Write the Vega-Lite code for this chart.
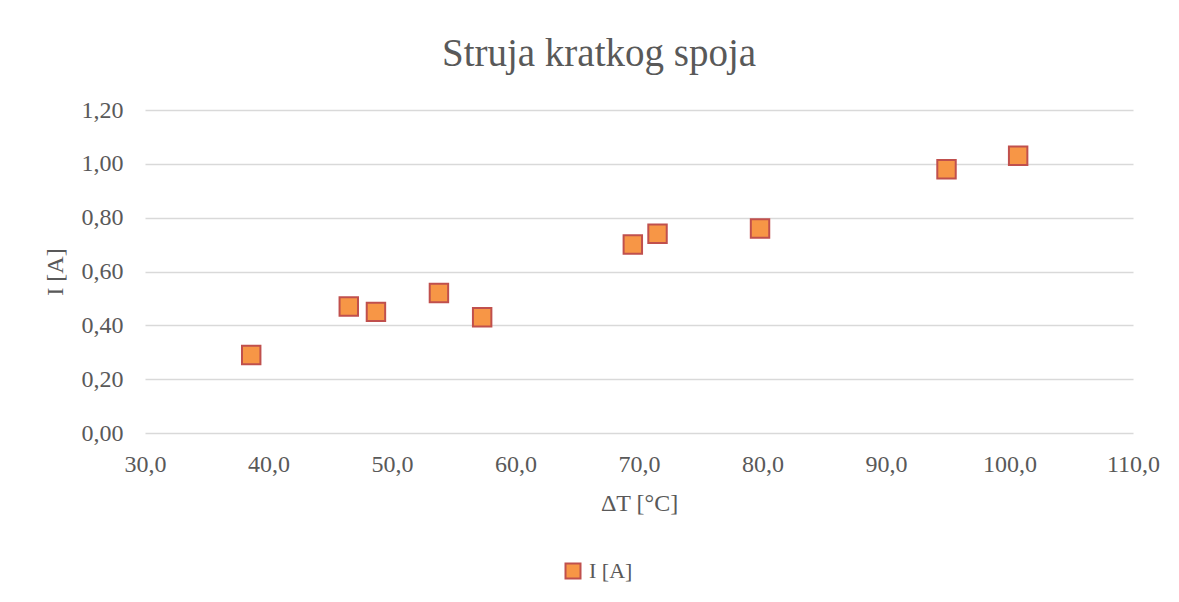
{
  "$schema": "https://vega.github.io/schema/vega-lite/v6.json",
  "autosize": "none",
  "width": 988,
  "height": 323,
  "padding": {"left": 145, "top": 110, "right": 46, "bottom": 169},
  "background": "white",
  "config": {
    "locale": {"number": {"decimal": ",", "thousands": ".", "grouping": [3], "currency": ["", ""]}},
    "view": {"stroke": null},
    "font": "Liberation Serif"
  },
  "title": {
    "text": "Struja kratkog spoja",
    "fontSize": 39,
    "fontWeight": "normal",
    "color": "#595959",
    "font": "Liberation Serif",
    "anchor": "middle",
    "frame": "group",
    "baseline": "alphabetic",
    "dx": -40,
    "offset": -7
  },
  "data": {
    "values": [
      {"dT": 38.6, "I": 0.29, "series": "I [A]"},
      {"dT": 46.5, "I": 0.47, "series": "I [A]"},
      {"dT": 48.7, "I": 0.45, "series": "I [A]"},
      {"dT": 53.8, "I": 0.52, "series": "I [A]"},
      {"dT": 57.3, "I": 0.43, "series": "I [A]"},
      {"dT": 69.5, "I": 0.70, "series": "I [A]"},
      {"dT": 71.5, "I": 0.74, "series": "I [A]"},
      {"dT": 79.8, "I": 0.76, "series": "I [A]"},
      {"dT": 94.9, "I": 0.98, "series": "I [A]"},
      {"dT": 100.7, "I": 1.03, "series": "I [A]"}
    ]
  },
  "mark": {"type": "point", "shape": "square", "filled": true, "size": 340, "stroke": "#C0504D", "strokeWidth": 2, "opacity": 1},
  "encoding": {
    "x": {
      "field": "dT", "type": "quantitative",
      "scale": {"domain": [30, 110], "nice": false, "zero": false},
      "axis": {
        "title": "ΔT [°C]", "titleFontSize": 24, "titleFontWeight": "normal", "titleColor": "#595959", "titleFont": "Liberation Serif", "titlePadding": 15,
        "values": [30, 40, 50, 60, 70, 80, 90, 100, 110], "format": ".1f",
        "labelFontSize": 24, "labelColor": "#595959", "labelFont": "Liberation Serif", "labelPadding": 19,
        "grid": false, "ticks": false, "domain": false, "labelFlush": false
      }
    },
    "y": {
      "field": "I", "type": "quantitative",
      "scale": {"domain": [0, 1.2], "nice": false},
      "axis": {
        "title": "I [A]", "titleFontSize": 24, "titleFontWeight": "normal", "titleColor": "#595959", "titleFont": "Liberation Serif", "titlePadding": 14,
        "values": [0, 0.2, 0.4, 0.6, 0.8, 1.0, 1.2], "format": ".2f",
        "labelFontSize": 24, "labelColor": "#595959", "labelFont": "Liberation Serif", "labelPadding": 22,
        "grid": true, "gridColor": "#D9D9D9", "gridWidth": 1.5, "ticks": false, "domain": false
      }
    },
    "color": {
      "field": "series", "type": "nominal",
      "scale": {"range": ["#F79646"]},
      "legend": {
        "title": null, "orient": "none", "legendX": 417, "legendY": 450, "padding": 0,
        "symbolType": "square", "symbolSize": 225, "symbolStrokeColor": "#C0504D", "symbolStrokeWidth": 2, "symbolFillColor": "#F79646",
        "labelFontSize": 22, "labelColor": "#595959", "labelFont": "Liberation Serif", "labelOffset": 5
      }
    }
  }
}
